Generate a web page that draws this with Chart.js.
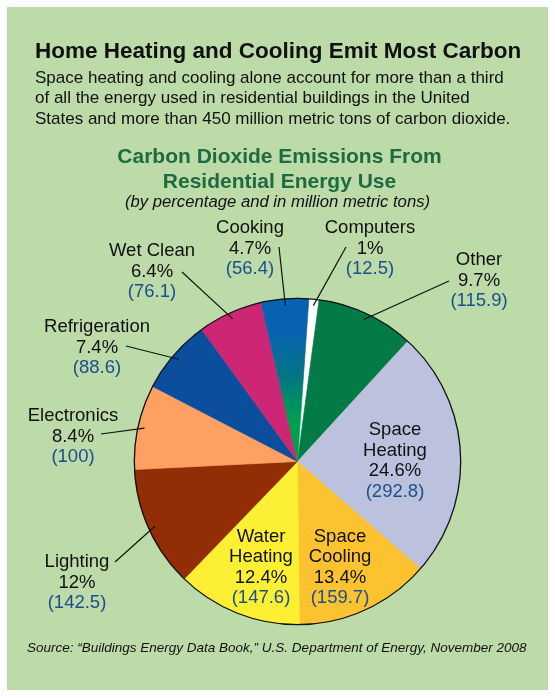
<!DOCTYPE html>
<html>
<head>
<meta charset="utf-8">
<script src="https://cdn.jsdelivr.net/npm/chart.js@4/dist/chart.umd.min.js"></script>
<style>
  body { margin: 0; background: #fff; font-family: Helvetica, Arial, "Liberation Sans", sans-serif; }
  #wrap { position: relative; width: 555px; height: 698px; overflow: hidden; }
  #panel { position: absolute; left: 7px; top: 7px; width: 541px; height: 683px; background: #bddaa9; }
  #pie { position: absolute; left: 0; top: 0; }
  .t { position: absolute; line-height: 1; white-space: nowrap; color: #111; }
  .c { left: 0; width: 555px; text-align: center; }
</style>
</head>
<body>
<div id="wrap">
  <div id="panel"></div>
  <canvas id="pie" width="555" height="698"></canvas>
  <div class="t" style="left:35px; top:39.7px; font-size:22.5px; font-weight:bold;">Home Heating and Cooling Emit Most Carbon</div>
  <div class="t" style="left:35px; top:68.6px; font-size:17px;">Space heating and cooling alone account for more than a third</div>
  <div class="t" style="left:35px; top:89.1px; font-size:17px;">of all the energy used in residential buildings in the United</div>
  <div class="t" style="left:35px; top:109.6px; font-size:17px;">States and more than 450 million metric tons of carbon dioxide.</div>
  <div class="t c" style="top:145.2px; font-size:21px; font-weight:bold; color:#1e6b3f; margin-left:2px;">Carbon Dioxide Emissions From</div>
  <div class="t c" style="top:170.2px; font-size:21px; font-weight:bold; color:#1e6b3f; margin-left:2px;">Residential Energy Use</div>
  <div class="t c" style="top:193.9px; font-size:16.7px; font-style:italic;">(by percentage and in million metric tons)</div>
  <div class="t" style="left:27px; top:640.6px; font-size:13.5px; font-style:italic;">Source: “Buildings Energy Data Book,” U.S. Department of Energy, November 2008</div>
</div>
<script>
// Slices, clockwise from the top
const categories = ['Computers', 'Other', 'Space Heating', 'Space Cooling', 'Water Heating',
                    'Lighting', 'Electronics', 'Refrigeration', 'Wet Clean', 'Cooking'];
const percents = [1, 9.7, 24.6, 13.4, 12.4, 12, 8.4, 7.4, 6.4, 4.7];
const tons = ['12.5', '115.9', '292.8', '159.7', '147.6', '142.5', '100', '88.6', '76.1', '56.4'];

const sliceColors = ['#ffffff', '#047a46', '#bcc2dd', '#fdc22f', '#fdef33',
                     '#932d06', '#fda062', '#0b4e9e', '#cc2674', null];

// label placement: centre x, first baseline, where the leader line starts (or none)
const labelLayout = [
    { lines: ['Computers'], x: 370, y: 233, lead: [346, 247] },
    { lines: ['Other'], x: 479, y: 265, lead: [449, 281] },
    { lines: ['Space', 'Heating'], x: 395, y: 435 },
    { lines: ['Space', 'Cooling'], x: 340, y: 541.5 },
    { lines: ['Water', 'Heating'], x: 261, y: 541.5 },
    { lines: ['Lighting'], x: 77, y: 567, lead: [115, 562] },
    { lines: ['Electronics'], x: 73, y: 421, lead: [101, 434] },
    { lines: ['Refrigeration'], x: 97, y: 332, lead: [126, 346] },
    { lines: ['Wet Clean'], x: 152, y: 256, lead: [182, 272] },
    { lines: ['Cooking'], x: 250, y: 233, lead: [279, 247] }
];

function sliceFill(c) {
    const col = sliceColors[c.dataIndex];
    if (col) return col;
    // cooking slice fades from blue at the rim to green near the centre
    const area = c.chart.chartArea;
    if (!area) return '#0760b2';
    const cy = (area.top + area.bottom) / 2;
    const r = Math.min(area.right - area.left, area.bottom - area.top) / 2;
    const g = c.chart.ctx.createLinearGradient(0, cy - r, 0, cy);
    g.addColorStop(0, '#0862b4');
    g.addColorStop(0.2, '#0862b4');
    g.addColorStop(0.5, '#02787f');
    g.addColorStop(0.75, '#00a04e');
    g.addColorStop(1, '#00a04e');
    return g;
}

const pieLabels = {
    id: 'pieLabels',
    afterDatasetsDraw(chart) {
        const ctx = chart.ctx;
        const arcs = chart.getDatasetMeta(0).data;
        const a0 = arcs[0];
        ctx.save();
        // outer rim
        ctx.beginPath();
        ctx.arc(a0.x, a0.y, a0.outerRadius, 0, Math.PI * 2);
        ctx.lineWidth = 1.3;
        ctx.strokeStyle = '#111';
        ctx.stroke();

        ctx.font = '18.5px Helvetica, Arial, "Liberation Sans", sans-serif';
        ctx.textAlign = 'center';
        ctx.textBaseline = 'alphabetic';
        labelLayout.forEach((lab, i) => {
            const arc = arcs[i];
            if (lab.lead) {
                const mid = (arc.startAngle + arc.endAngle) / 2;
                const r = arc.outerRadius * 0.96;
                ctx.beginPath();
                ctx.moveTo(lab.lead[0], lab.lead[1]);
                ctx.lineTo(arc.x + Math.cos(mid) * r, arc.y + Math.sin(mid) * r);
                ctx.lineWidth = 1.2;
                ctx.strokeStyle = '#111';
                ctx.stroke();
            }
            let y = lab.y;
            ctx.fillStyle = '#111';
            lab.lines.forEach(s => { ctx.fillText(s, lab.x, y); y += 20.5; });
            ctx.fillText(percents[i] + '%', lab.x, y);
            y += 20.5;
            ctx.fillStyle = '#1b4f8c';
            ctx.fillText('(' + tons[i] + ')', lab.x, y);
        });
        ctx.restore();
    }
};

new Chart(document.getElementById('pie').getContext('2d'), {
    type: 'pie',
    data: {
        labels: categories,
        datasets: [{
            data: percents,
            backgroundColor: sliceFill,
            borderColor: sliceFill,
            borderWidth: 0.6
        }]
    },
    options: {
        responsive: false,
        animation: false,
        rotation: 4,
        layout: { padding: { left: 134, right: 94, top: 298, bottom: 73 } },
        plugins: {
            legend: { display: false },
            tooltip: { enabled: false }
        }
    },
    plugins: [pieLabels]
});
</script>
</body>
</html>
